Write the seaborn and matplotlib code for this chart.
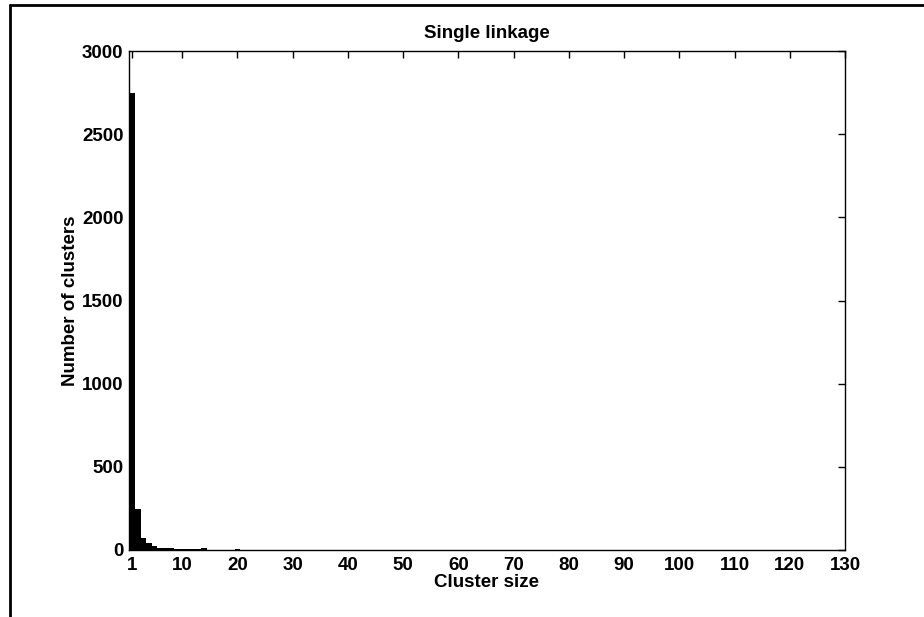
import numpy as np
import pandas as pd
import matplotlib
matplotlib.use("Agg")
import matplotlib.pyplot as plt
import seaborn as sns
from matplotlib.lines import Line2D

# cluster sizes and how many clusters have that size
sizes = list(range(1, 46))
counts = [2750, 246, 70, 44, 24, 10, 12, 12, 6, 5,
          4, 5, 4, 10, 3, 3, 2, 3, 2, 4,
          2, 1, 1, 2, 3, 1, 1, 1, 2, 3,
          1, 0, 1, 1, 2, 0, 0, 2, 0, 1,
          1, 0, 0, 3, 1]
xticks = [1] + list(range(10, 131, 10))
yticks = list(range(0, 3001, 500))

df = pd.DataFrame({"size": sizes, "count": counts})

sns.set_style("white")
plt.rcParams['font.family'] = ['Liberation Sans', 'DejaVu Sans']
plt.rcParams['font.weight'] = 'bold'
plt.rcParams['text.color'] = 'black'
plt.rcParams['axes.labelcolor'] = 'black'

fig = plt.figure(figsize=(9.24, 6.17), dpi=100)
ax = fig.add_axes([129/924, 1-550/617, (845-129)/924, (550-51)/617])

sns.histplot(data=df, x="size", weights="count", discrete=True,
             color="black", alpha=1, edgecolor="black", linewidth=0, ax=ax)

ax.set_xlim(0.4, 130)
ax.set_ylim(0, 3000)
ax.set_xticks(xticks)
ax.set_yticks(yticks)
ax.tick_params(direction="in", length=5, width=1, top=True, right=True,
               labelsize=13.5, colors="black")
ax.tick_params(axis="x", pad=5)
ax.tick_params(axis="y", pad=4)
for lab in ax.get_xticklabels() + ax.get_yticklabels():
    lab.set_fontweight("bold")
for s in ax.spines.values():
    s.set_color("black")
    s.set_linewidth(1.0)

ax.set_title("Single linkage", fontsize=13.5, fontweight="bold", pad=9, color="black")
ax.set_xlabel("Cluster size", fontsize=13.5, fontweight="bold", labelpad=0, color="black")
ax.set_ylabel("Number of clusters", fontsize=13.5, fontweight="bold", labelpad=2, color="black")

# frame lines of the original screenshot
fig.add_artist(Line2D([10/924, 1], [1-5/617, 1-5/617], color="black", lw=2,
                      transform=fig.transFigure))
fig.add_artist(Line2D([10/924, 10/924], [0, 1-5/617], color="black", lw=2,
                      transform=fig.transFigure))

fig.savefig("out.png", dpi=100)
